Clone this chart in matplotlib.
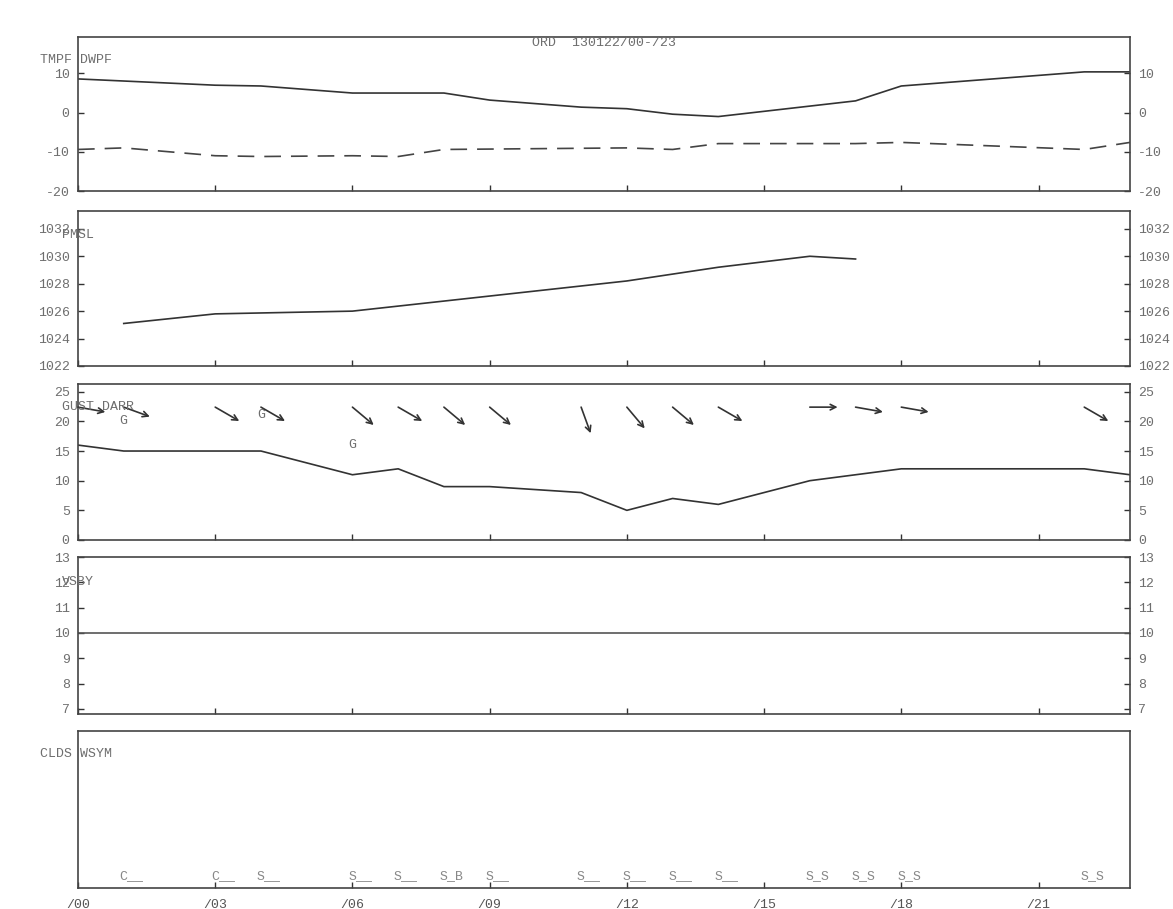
import matplotlib
matplotlib.use("Agg")
import matplotlib.pyplot as plt
import numpy as np

# ---- data -------------------------------------------------------------
station_title = "ORD  130122/00-/23"
hour_ticks = [0, 3, 6, 9, 12, 15, 18, 21]
hour_tick_labels = ["/00", "/03", "/06", "/09", "/12", "/15", "/18", "/21"]

tmpf_hours = [0, 3, 4, 6, 8, 9, 11, 12, 13, 14, 17, 18, 22, 23]
tmpf = [8.6, 7.0, 6.8, 5.0, 5.0, 3.2, 1.4, 1.0, -0.4, -1.0, 3.0, 6.8, 10.4, 10.4]

dwpf_hours = [0, 1, 3, 4, 6, 7, 8, 12, 13, 14, 17, 18, 22, 23]
dwpf = [-9.4, -9.0, -11.0, -11.2, -11.0, -11.2, -9.4, -9.0, -9.4, -7.9, -7.9, -7.6, -9.4, -7.6]

pmsl_hours = [1, 3, 6, 9, 12, 14, 16, 17]
pmsl = [1025.1, 1025.8, 1026.0, 1027.1, 1028.2, 1029.2, 1030.0, 1029.8]

sknt_hours = [0, 1, 4, 6, 7, 8, 9, 11, 12, 13, 14, 16, 17, 18, 22, 23]
sknt = [16, 15, 15, 11, 12, 9, 9, 8, 5, 7, 6, 10, 11, 12, 12, 11]

gust_hours = [1, 4, 6]
gust = [20, 21, 16]

drct_hours = [0, 1, 3, 4, 6, 7, 8, 9, 11, 12, 13, 14, 16, 17, 18, 22]
drct = [280, 290, 300, 300, 310, 300, 310, 310, 340, 320, 310, 300, 270, 280, 280, 300]

vsby_hours = [0, 23]
vsby = [10, 10]

clds_hours = [1, 3, 4, 6, 7, 8, 9, 11, 12, 13, 14, 16, 17, 18, 22]
clds = ["C__", "C__", "S__", "S__", "S__", "S_B", "S__", "S__", "S__",
        "S__", "S__", "S_S", "S_S", "S_S", "S_S"]

# ---- style ------------------------------------------------------------
W, H = 1173, 909
plt.rcParams["font.family"] = ["Liberation Mono", "DejaVu Sans Mono"]
plt.rcParams["axes.unicode_minus"] = False
TXT = "#6e6e6e"
LINE = "#333333"
FS = 9.5

fig = plt.figure(figsize=(W / 100, H / 100), dpi=100)


def px_axes(top, bottom, left=78, right=1130):
    return fig.add_axes([left / W, 1 - bottom / H, (right - left) / W, (bottom - top) / H])


def style(ax, yticks=None, ylim=None):
    ax.set_xlim(0, 23)
    ax.set_xticks(hour_ticks)
    ax.set_xticklabels([])
    for s in ax.spines.values():
        s.set_color("#444444")
        s.set_linewidth(1.2)
    ax.tick_params(axis="x", direction="in", length=4, width=1, color="#333333",
                   labelsize=FS, labelcolor=TXT, pad=8)
    if yticks is not None:
        ax.set_yticks(yticks)
        ax.tick_params(axis="y", direction="in", length=4, width=1, color="#333333",
                       left=True, right=True, labelleft=True, labelright=True,
                       labelsize=FS, labelcolor=TXT, pad=6)
    else:
        ax.set_yticks([])
    if ylim is not None:
        ax.set_ylim(*ylim)


def label(x, y, s):
    fig.text(x / W, 1 - y / H, s, ha="left", va="center", fontsize=FS, color=TXT)


# panel 1: temperature / dewpoint
ax1 = px_axes(37, 191)
ax1.plot(tmpf_hours, tmpf, color=LINE, lw=1.2)
ax1.plot(dwpf_hours, dwpf, color="#444444", lw=1.2, linestyle=(0, (10, 6)))
style(ax1, [-20, -10, 0, 10], (-20, 19.3))
ax1.text(0.5, 0.96, station_title, transform=ax1.transAxes, ha="center",
         va="center", fontsize=FS, color=TXT)
label(40, 60, "TMPF DWPF")

# panel 2: sea-level pressure
ax2 = px_axes(211, 366)
ax2.plot(pmsl_hours, pmsl, color=LINE, lw=1.2)
style(ax2, [1022, 1024, 1026, 1028, 1030, 1032], (1022, 1033.3))
label(62, 235, "PMSL")

# panel 3: wind speed, gusts and direction arrows
ax3 = px_axes(384, 540)
ax3.plot(sknt_hours, sknt, color=LINE, lw=1.2)
style(ax3, [0, 5, 10, 15, 20, 25], (0, 26.3))
for h, g in zip(gust_hours, gust):
    ax3.text(h, g, "G", ha="center", va="center", fontsize=FS, color=TXT)
arrow_len = 20.0  # points
for h, d in zip(drct_hours, drct):
    # direction the wind blows toward, in screen orientation
    theta = np.deg2rad(270.0 - d)
    dx = arrow_len * np.cos(theta)
    dy = arrow_len * np.sin(theta)
    ax3.annotate("", xy=(h, 22.4), xycoords="data",
                 xytext=(dx, dy), textcoords="offset points",
                 arrowprops=dict(arrowstyle="<-", color="#333333", lw=1.2,
                                 shrinkA=0, shrinkB=0, mutation_scale=10))
label(62, 407, "GUST DARR")

# panel 4: visibility
ax4 = px_axes(557, 714)
ax4.plot(vsby_hours, vsby, color="#555555", lw=1.2)
style(ax4, [7, 8, 9, 10, 11, 12, 13], (6.8, 13))
label(62, 582, "VSBY")

# panel 5: clouds / weather symbols
ax5 = px_axes(731, 888)
style(ax5)
ax5.set_ylim(0, 1)
ax5.set_xticklabels(hour_tick_labels)
ax5.tick_params(axis="x", labelcolor="#555555")
xt = ax5.get_xaxis_transform()
for h, c in zip(clds_hours, clds):
    ax5.annotate(c, xy=(h, 0.075), xycoords=xt, xytext=(-3, 0),
                 textcoords="offset points", ha="left", va="center",
                 fontsize=FS, color="#888888")
label(40, 754, "CLDS WSYM")

fig.savefig("out.png", dpi=100)
